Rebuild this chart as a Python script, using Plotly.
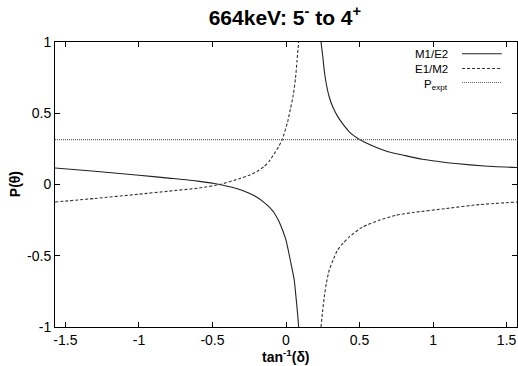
import math
import plotly.graph_objects as go

# --- data ---
m1e2_left_x = [-1.5708, -1.3, -1.0, -0.8, -0.6, -0.45, -0.3, -0.25, -0.2, -0.15, -0.113, -0.08, -0.05, -0.023, 0.0, 0.011, 0.034, 0.056, 0.068, 0.08, 0.086]
m1e2_left_y = [0.116, 0.093, 0.065, 0.045, 0.024, 0.0, -0.04, -0.062, -0.088, -0.125, -0.158, -0.2, -0.255, -0.321, -0.39, -0.44, -0.555, -0.67, -0.79, -0.92, -1.0]
m1e2_right_x = [0.238, 0.25, 0.26, 0.275, 0.294, 0.32, 0.35, 0.39, 0.43, 0.486, 0.55, 0.62, 0.701, 0.8, 0.927, 1.05, 1.154, 1.35, 1.5708]
m1e2_right_y = [1.0, 0.9, 0.80, 0.70, 0.614, 0.54, 0.48, 0.42, 0.37, 0.325, 0.29, 0.258, 0.228, 0.205, 0.177, 0.16, 0.147, 0.13, 0.119]

e1m2_left_x = [-1.5708, -1.3, -1.0, -0.8, -0.6, -0.45, -0.317, -0.25, -0.2, -0.15, -0.113, -0.079, -0.05, -0.023, 0.011, 0.03, 0.05, 0.065, 0.075, 0.086]
e1m2_left_y = [-0.123, -0.098, -0.068, -0.047, -0.026, 0.0, 0.041, 0.065, 0.09, 0.125, 0.165, 0.217, 0.265, 0.322, 0.44, 0.53, 0.63, 0.75, 0.87, 1.0]
e1m2_right_x = [0.238, 0.25, 0.26, 0.275, 0.294, 0.32, 0.35, 0.39, 0.43, 0.52, 0.633, 0.747, 0.86, 1.086, 1.312, 1.5708]
e1m2_right_y = [-1.0, -0.88, -0.79, -0.69, -0.60, -0.53, -0.46, -0.41, -0.368, -0.298, -0.251, -0.216, -0.197, -0.169, -0.141, -0.123]

p_expt = 0.315
x_range = [-math.pi / 2, math.pi / 2]

x_ticks = [-1.5, -1.0, -0.5, 0.0, 0.5, 1.0, 1.5]
x_tick_labels = ["-1.5", "-1", "-0.5", "0", "0.5", "1", "1.5"]
y_ticks = [-1.0, -0.5, 0.0, 0.5, 1.0]
y_tick_labels = ["-1", "-0.5", "0", "0.5", "1"]

legend_names = ["M1/E2", "E1/M2", "P<sub>expt</sub>"]

FONT = "Liberation Sans, Arial, Helvetica, sans-serif"
solid_style = dict(color="#222222", width=1.1)
dash_style = dict(color="#333333", width=1.1, dash="3px,2px")
dot_style = dict(color="#666666", width=1.1, dash="1px,1px")

fig = go.Figure()
for xs, ys in [(m1e2_left_x, m1e2_left_y), (m1e2_right_x, m1e2_right_y)]:
    fig.add_trace(go.Scatter(x=xs, y=ys, mode="lines", line=dict(shape="spline", smoothing=0.5, **solid_style),
                             showlegend=False, hoverinfo="skip"))
for xs, ys in [(e1m2_left_x, e1m2_left_y), (e1m2_right_x, e1m2_right_y)]:
    fig.add_trace(go.Scatter(x=xs, y=ys, mode="lines", line=dict(shape="spline", smoothing=0.5, **dash_style),
                             showlegend=False, hoverinfo="skip"))
fig.add_trace(go.Scatter(x=x_range, y=[p_expt, p_expt], mode="lines", line=dot_style,
                         showlegend=False, hoverinfo="skip"))

# gnuplot-style legend: text right-aligned, sample line to its right
legend_rows_y = [0.959, 0.907, 0.858]
styles = [solid_style, dash_style, dot_style]
for name, ry, st in zip(legend_names, legend_rows_y, styles):
    fig.add_annotation(xref="paper", yref="paper", x=0.855, y=ry + (0.0 if "sub" not in name else -0.008),
                       text=name, showarrow=False, xanchor="right", yanchor="middle",
                       font=dict(family=FONT, size=11.5, color="black"))
    fig.add_shape(type="line", xref="paper", yref="paper", x0=0.881, x1=0.967, y0=ry, y1=ry,
                  line=st)

# axis titles as annotations for exact placement
fig.add_annotation(xref="paper", yref="paper", x=0.5, y=-0.1, yanchor="middle", xanchor="center",
                   text="<b>tan<sup>-1</sup>(δ)</b>", showarrow=False,
                   font=dict(family=FONT, size=14, color="black"))
fig.add_annotation(xref="paper", yref="paper", x=-0.086, y=0.502, yanchor="middle", xanchor="center",
                   text="<b>P(θ)</b>", showarrow=False, textangle=-90,
                   font=dict(family=FONT, size=14, color="black"))

axis_common = dict(showline=True, linecolor="black", linewidth=1, mirror="ticks",
                   ticks="inside", ticklen=5, tickcolor="black", showgrid=False, zeroline=False,
                   automargin=False,
                   tickfont=dict(family=FONT, size=14, color="black"))

fig.update_xaxes(range=x_range, tickvals=x_ticks, ticktext=x_tick_labels, **axis_common)
fig.update_yaxes(range=[-1, 1], tickvals=y_ticks, ticktext=y_tick_labels, **axis_common)

fig.update_layout(
    width=518, height=366,
    margin=dict(l=55, r=1, t=42, b=39),
    paper_bgcolor="white", plot_bgcolor="white",
    title=dict(text="<b>664keV: 5<sup>-</sup> to 4<sup>+</sup></b>", x=0.55, xanchor="center", y=0.951, yanchor="middle",
               font=dict(family=FONT, size=21, color="black")),
    showlegend=False,
)

# remove the browser's default page margin so the 518x366 figure fills the window
fig.write_html("out.html", config={"displayModeBar": False},
               post_script="document.body.style.margin='0';document.body.style.overflow='hidden';")
